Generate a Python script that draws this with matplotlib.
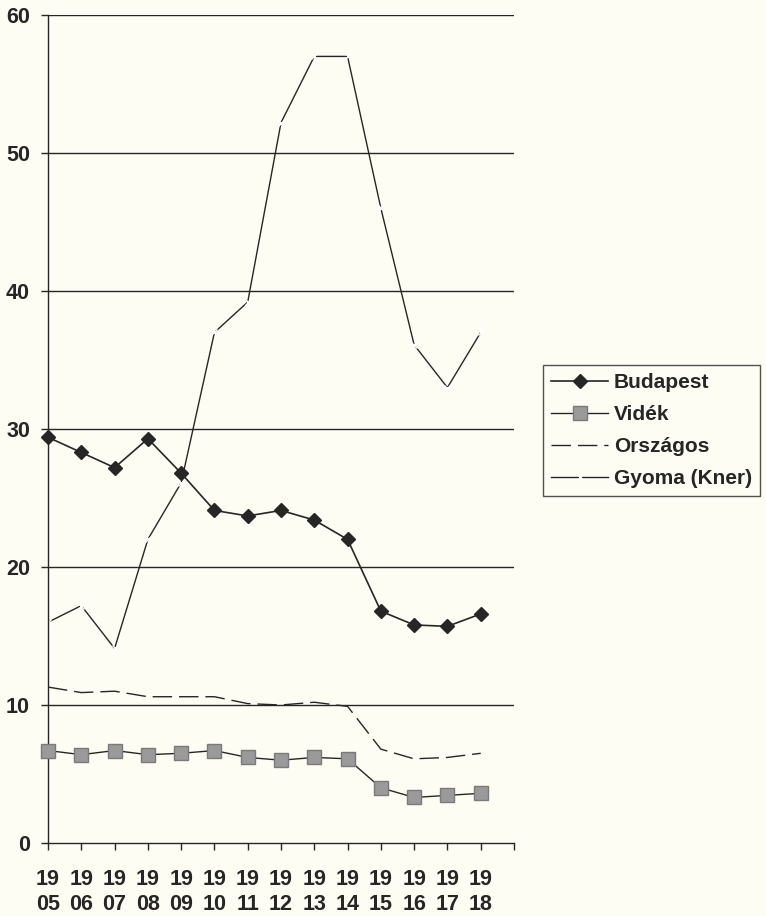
import matplotlib
matplotlib.use("Agg")
import matplotlib.pyplot as plt
from matplotlib.lines import Line2D

years = ["19\n05", "19\n06", "19\n07", "19\n08", "19\n09", "19\n10", "19\n11",
         "19\n12", "19\n13", "19\n14", "19\n15", "19\n16", "19\n17", "19\n18"]
budapest = [29.4, 28.3, 27.2, 29.3, 26.8, 24.1, 23.7, 24.1, 23.4, 22.0, 16.8, 15.8, 15.7, 16.6]
videk = [6.7, 6.4, 6.7, 6.4, 6.5, 6.7, 6.2, 6.0, 6.2, 6.1, 4.0, 3.3, 3.45, 3.6]
orszagos = [11.3, 10.9, 11.0, 10.6, 10.6, 10.6, 10.1, 10.0, 10.2, 9.9, 6.8, 6.1, 6.2, 6.5]
gyoma = [16.0, 17.2, 14.1, 22.0, 26.1, 37.0, 39.2, 52.2, 57.0, 57.0, 46.0, 36.1, 33.0, 37.0]
yticks = [0, 10, 20, 30, 40, 50, 60]

bg = "#fdfdf4"
ink = "#262626"
plt.rcParams['font.family'] = ['Liberation Sans', 'DejaVu Sans']
plt.rcParams['font.weight'] = 'bold'

fig = plt.figure(figsize=(7.66, 9.16), dpi=100, facecolor=bg)
ax = fig.add_axes([0.0627, 0.0797, 0.6083, 0.9039], facecolor=bg)

x = list(range(len(years)))
for yv in yticks[1:]:
    ax.axhline(yv, color=ink, lw=1.0, zorder=1)

dash = (14, 5)
ax.plot(x, gyoma, color=ink, lw=1.0, marker='x', ms=5, mec='white', mew=1.0, zorder=2,
        label="Gyoma (Kner)")
ax.plot(x, orszagos, color=ink, lw=1.0, dashes=dash, zorder=2, label="Országos")
ax.plot(x, videk, color=ink, lw=1.0, marker='s', ms=10, mfc='#9a9a9a', mec='#7a7a7a',
        zorder=3, label="Vidék", clip_on=False)
ax.plot(x, budapest, color=ink, lw=1.2, marker='D', ms=7, mfc=ink, mec=ink, zorder=4,
        label="Budapest", clip_on=False)

ax.set_xlim(0, 14)
ax.set_ylim(0, 60)
ax.set_xticks(range(15))
ax.set_xticklabels(years + [""], fontsize=15.5, fontweight='bold', linespacing=1.25)
ax.set_yticks(yticks)
ax.set_yticklabels([str(v) for v in yticks], fontsize=15.5, fontweight='bold')
ax.tick_params(axis='x', direction='out', length=5, width=1, color=ink, pad=14, labelcolor=ink)
ax.tick_params(axis='y', direction='out', length=5, width=1, color=ink, pad=8, labelcolor=ink)
for s in ['top', 'right']:
    ax.spines[s].set_visible(False)
for s in ['left', 'bottom']:
    ax.spines[s].set_color(ink)
    ax.spines[s].set_linewidth(1.0)

handles = [
    Line2D([], [], color=ink, lw=1.2, marker='D', ms=7, mfc=ink, mec=ink),
    Line2D([], [], color=ink, lw=1.0, marker='s', ms=10, mfc='#9a9a9a', mec='#7a7a7a'),
    Line2D([], [], color=ink, lw=1.0, dashes=dash),
    Line2D([], [], color=ink, lw=1.0, marker='x', ms=5, mec='white', mew=1.0),
]
labels = ["Budapest", "Vidék", "Országos", "Gyoma (Kner)"]
leg = fig.legend(handles, labels, loc='upper left', bbox_to_anchor=(0.709, 0.6015),
                 frameon=True, fancybox=False, shadow=False, fontsize=15,
                 handlelength=2.7, handletextpad=0.3, borderpad=0.4, labelspacing=0.62,
                 borderaxespad=0)
leg.get_frame().set_edgecolor(ink)
leg.get_frame().set_linewidth(1.0)
leg.get_frame().set_facecolor(bg)
for t in leg.get_texts():
    t.set_fontweight('bold')
    t.set_color(ink)

fig.savefig("out.png", dpi=100, facecolor=bg)
